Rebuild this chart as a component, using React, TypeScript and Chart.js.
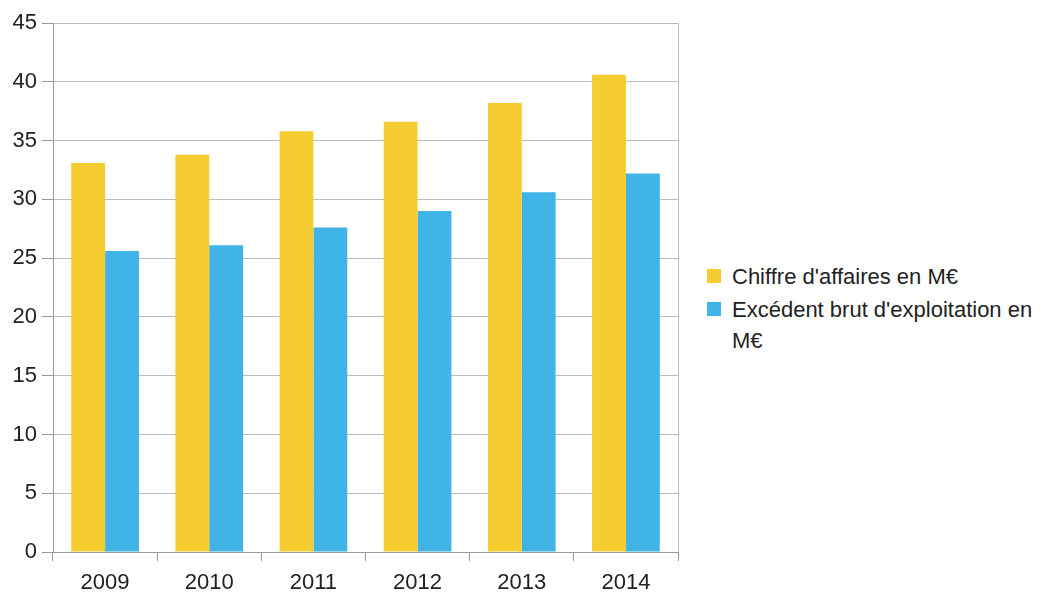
import React, { useEffect, useRef } from "react";
import { Chart, registerables } from "chart.js";

Chart.register(...registerables);

const years = ["2009", "2010", "2011", "2012", "2013", "2014"];
const chiffreAffaires = [33.1, 33.8, 35.8, 36.6, 38.2, 40.6];
const excedentBrut = [25.6, 26.1, 27.6, 29.0, 30.6, 32.2];
const seriesLabels = ["Chiffre d'affaires en M€", "Excédent brut d'exploitation en M€"];
const seriesColors = ["#F5CD30", "#40B4E6"];
const yMin = 0;
const yMax = 45;
const yStep = 5;

const FONT = "'Liberation Sans', Arial, sans-serif";
const TEXT = "#222222";
const GRID = "#bdbdbd";
const AXIS = "#9a9a9a";

export default function App() {
  const canvasRef = useRef<HTMLCanvasElement | null>(null);

  useEffect(() => {
    const canvas = canvasRef.current;
    if (!canvas) return;
    const chart = new Chart(canvas, {
      type: "bar",
      data: {
        labels: years,
        datasets: [
          { label: seriesLabels[0], data: chiffreAffaires, backgroundColor: seriesColors[0], borderWidth: 0 },
          { label: seriesLabels[1], data: excedentBrut, backgroundColor: seriesColors[1], borderWidth: 0 },
        ],
      },
      options: {
        responsive: false,
        animation: false,
        layout: { padding: { top: 23, right: 12, left: 0, bottom: 0 } },
        datasets: { bar: { categoryPercentage: 0.65, barPercentage: 1 } },
        plugins: { legend: { display: false }, tooltip: { enabled: false } },
        scales: {
          x: {
            offset: true,
            grid: {
              offset: true,
              drawOnChartArea: true,
              color: (ctx: any) => (ctx.type === "scale" ? GRID : "rgba(0,0,0,0)"),
              tickColor: AXIS,
              tickLength: 9,
            },
            border: { display: true, color: AXIS },
            ticks: { color: TEXT, font: { family: FONT, size: 22 }, padding: 9 },
            afterFit: (scale: any) => {
              scale.height = 41;
            },
          },
          y: {
            min: yMin,
            max: yMax,
            grid: { color: GRID, tickColor: AXIS, tickLength: 11 },
            border: { display: true, color: AXIS },
            ticks: { stepSize: yStep, color: TEXT, font: { family: FONT, size: 22 }, padding: 5 },
            afterFit: (scale: any) => {
              scale.width = 53;
            },
          },
        },
      },
    });
    return () => chart.destroy();
  }, []);

  const legendTops = [261, 294];
  return (
    <div style={{ position: "fixed", left: 0, top: 0, width: 1049, height: 593, background: "#fff", overflow: "hidden" }}>
      <canvas ref={canvasRef} width={690} height={593} style={{ position: "absolute", left: 0, top: 0 }} />
      {seriesLabels.map((lab, i) => (
        <div key={lab} style={{ position: "absolute", left: 707, top: legendTops[i], width: 340 }}>
          <div
            style={{
              position: "absolute",
              left: 0,
              top: 8,
              width: 14,
              height: 14,
              background: seriesColors[i],
            }}
          />
          <div
            style={{
              position: "absolute",
              left: 25,
              top: 0,
              width: 310,
              fontFamily: FONT,
              fontSize: 22,
              lineHeight: "31px",
              color: TEXT,
            }}
          >
            {lab}
          </div>
        </div>
      ))}
    </div>
  );
}
